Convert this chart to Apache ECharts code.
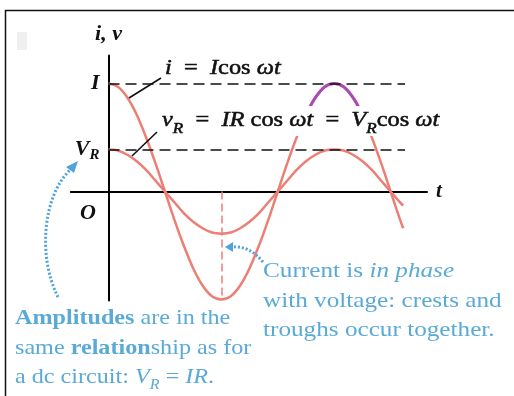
<!DOCTYPE html>
<html>
<head>
<meta charset="utf-8">
<script src="https://cdn.jsdelivr.net/npm/echarts@6/dist/echarts.min.js"></script>
<style>
  html, body { margin: 0; padding: 0; background: #fff; }
  #chart { width: 514px; height: 396px; }
</style>
</head>
<body>
<div id="chart"></div>
<script>
// Phase angle ωt in degrees and the sampled waveforms (current in units of I)
const phaseDeg = [0, 15, 30, 45, 60, 75, 90, 105, 120, 135, 150, 165, 180, 195, 210, 225,
  240, 255, 270, 285, 300, 315, 330, 345, 360, 375, 390, 405, 420, 435, 450, 465, 470];
const currentI = [1, 0.97, 0.87, 0.71, 0.5, 0.26, 0, -0.26, -0.5, -0.71, -0.87, -0.97, -1,
  -0.97, -0.87, -0.71, -0.5, -0.26, 0, 0.26, 0.5, 0.71, 0.87, 0.97, 1, 0.97, 0.87, 0.71,
  0.5, 0.26, 0, -0.26, -0.34];
const voltageV = [0.39, 0.38, 0.34, 0.28, 0.2, 0.1, 0, -0.1, -0.2, -0.28, -0.34, -0.38, -0.39,
  -0.38, -0.34, -0.28, -0.2, -0.1, 0, 0.1, 0.2, 0.28, 0.34, 0.38, 0.39, 0.38, 0.34, 0.28,
  0.2, 0.1, 0, -0.1, -0.13];

// Highlighted crest of the current
const crestDeg = [320, 330, 345, 360, 375, 390, 400];
const crestI = [0.77, 0.87, 0.97, 1, 0.97, 0.87, 0.77];

// Amplitude levels I and V_R, and where the dashed guides end
const levelValues = [1, 0.39];
const levelNames = ['I', 'V_R'];
const guideEndDeg = 473;
const troughDeg = 180;

const RED = '#ec7f74';
const PURPLE = '#a94bb5';
const BLUE = '#5aaad6';
const SERIF = '"Liberation Serif", "Times New Roman", serif';

const zip = (xs, ys) => xs.map((x, k) => [x, ys[k]]);

const mathRich = (size) => ({
  it: { fontFamily: SERIF, fontStyle: 'italic', fontSize: size, lineHeight: 30, verticalAlign: 'middle' },
  rm: { fontFamily: SERIF, fontSize: size, lineHeight: 30, verticalAlign: 'middle' },
  sub: { fontFamily: SERIF, fontStyle: 'italic', fontSize: Math.round(size * 0.7), lineHeight: 14, verticalAlign: 'bottom' }
});

const chart = echarts.init(document.getElementById('chart'), null, { renderer: 'canvas' });

// The y-axis line sits on x = 0, which lies 37.6 px right of the grid edge;
// the level labels are pulled over to it with a negative margin.
const yLabelMargin = 9 - 37.6;

chart.setOption({
  animation: false,
  backgroundColor: '#fff',
  grid: { left: 70.9, top: 55.4, width: 356.1, height: 245.2, containLabel: false },
  xAxis: {
    type: 'value', min: -60, max: 508,
    axisLine: { onZero: true, lineStyle: { color: '#000', width: 2 } },
    axisTick: { show: false }, axisLabel: { show: false }, splitLine: { show: false },
    name: 't', nameLocation: 'end', nameGap: 9,
    nameTextStyle: { fontFamily: SERIF, fontStyle: 'italic', fontWeight: 'bold', fontSize: 21, color: '#111', verticalAlign: 'middle' }
  },
  yAxis: {
    type: 'value', min: -1.01, max: 1.26,
    axisLine: { onZero: true, lineStyle: { color: '#000', width: 2 } },
    axisTick: { show: false }, splitLine: { show: false },
    name: 'i, v', nameLocation: 'end', nameGap: 10,
    nameTextStyle: { fontFamily: SERIF, fontStyle: 'italic', fontWeight: 'bold', fontSize: 22, color: '#111', align: 'center' },
    axisLabel: {
      customValues: levelValues,
      margin: yLabelMargin,
      formatter: (v) => {
        const name = levelNames[levelValues.indexOf(v)] || '';
        return name === 'V_R' ? '{it|V}{sub|R}' : '{it|' + name + '}';
      },
      rich: {
        it: { fontFamily: SERIF, fontStyle: 'italic', fontWeight: 'bold', fontSize: 22, color: '#111', lineHeight: 26, verticalAlign: 'middle' },
        sub: { fontFamily: SERIF, fontStyle: 'italic', fontWeight: 'bold', fontSize: 15, color: '#111', lineHeight: 12, verticalAlign: 'bottom' }
      }
    }
  },
  series: [
    {
      name: 'v', type: 'line', smooth: 0.35, symbol: 'none', z: 3,
      data: zip(phaseDeg, voltageV),
      lineStyle: { color: RED, width: 2.5 },
      markLine: {
        silent: true, symbol: 'none', label: { show: false },
        lineStyle: { color: '#111', width: 1.6, type: [11, 6] },
        data: levelValues.map((lv) => [{ coord: [0, lv] }, { coord: [guideEndDeg, lv] }])
      }
    },
    {
      name: 'i', type: 'line', smooth: 0.35, symbol: 'none', z: 3,
      data: zip(phaseDeg, currentI),
      lineStyle: { color: RED, width: 2.5 },
      markLine: {
        silent: true, symbol: 'none', label: { show: false },
        lineStyle: { color: RED, width: 1.5, type: [8, 4] },
        data: [[{ coord: [troughDeg, 0] }, { coord: [troughDeg, -1] }]]
      }
    },
    {
      name: 'crest', type: 'line', smooth: 0.35, symbol: 'none', z: 4,
      data: zip(crestDeg, crestI),
      lineStyle: { color: PURPLE, width: 3 }
    }
  ],
  graphic: {
    elements: [
      // page frame
      { type: 'polyline', z: 50, shape: { points: [[5.5, 396], [5.5, 10.5], [514, 10.5]] },
        style: { stroke: '#111', lineWidth: 1.5, fill: null } },
      { type: 'rect', z: 50, shape: { x: 17, y: 32, width: 10, height: 18 }, style: { fill: '#efefef' } },
      // leader lines
      { type: 'line', z: 60, shape: { x1: 161, y1: 78, x2: 129, y2: 98 }, style: { stroke: '#111', lineWidth: 1.6 } },
      { type: 'line', z: 60, shape: { x1: 157, y1: 132, x2: 132, y2: 156 }, style: { stroke: '#111', lineWidth: 1.6 } },
      // formulas
      { type: 'text', z: 60, x: 165, y: 69, scaleX: 1.22,
        style: { text: '{it|i}  {rm|=}  {it|I}{rm|cos} {it|ωt}', fill: '#111', fontSize: 20, fontFamily: SERIF,
          stroke: '#111', lineWidth: 0.5,
          verticalAlign: 'middle', align: 'left', rich: mathRich(20) } },
      { type: 'text', z: 60, x: 162, y: 121, scaleX: 1.22,
        style: { text: '{it|v}{sub|R}  {rm|=}  {it|IR} {rm|cos} {it|ωt}  {rm|=}  {it|V}{sub|R}{rm|cos} {it|ωt}', fill: '#111',
          stroke: '#111', lineWidth: 0.5,
          fontSize: 20, fontFamily: SERIF, verticalAlign: 'middle', align: 'left', backgroundColor: '#fff',
          rich: mathRich(20) } },
      // origin label
      { type: 'text', z: 60, x: 88, y: 213,
        style: { text: 'O', fill: '#111', fontSize: 22, fontFamily: SERIF, fontStyle: 'italic', fontWeight: 'bold',
          align: 'center', verticalAlign: 'middle' } },
      // blue notes
      { type: 'text', z: 60, x: 263, y: 257, scaleX: 1.2,
        style: { text: 'Current is {i|in phase}\nwith voltage: crests and\ntroughs occur together.', fill: BLUE,
          fontSize: 21, fontFamily: SERIF, lineHeight: 29.5, align: 'left', verticalAlign: 'top',
          rich: { i: { fontStyle: 'italic', fontSize: 21, fontFamily: SERIF, fill: BLUE, lineHeight: 29.5 } } } },
      { type: 'text', z: 60, x: 15, y: 304, scaleX: 1.15,
        style: { text: '{b|Amplitudes} are in the\nsame {b|relation}ship as for\na dc circuit: {i|V}{s|R} = {i|IR}.', fill: BLUE,
          fontSize: 21, fontFamily: SERIF, lineHeight: 29.5, align: 'left', verticalAlign: 'top',
          rich: {
            b: { fontWeight: 'bold', fontSize: 21, fontFamily: SERIF, fill: BLUE, lineHeight: 29.5 },
            i: { fontStyle: 'italic', fontSize: 21, fontFamily: SERIF, fill: BLUE, lineHeight: 29.5 },
            s: { fontStyle: 'italic', fontSize: 14, fontFamily: SERIF, fill: BLUE, lineHeight: 14, verticalAlign: 'bottom' }
          } } },
      // dotted pointers
      { type: 'bezierCurve', z: 60, shape: { x1: 58, y1: 297, cpx1: 38, cpy1: 258, cpx2: 42, cpy2: 196, x2: 71, y2: 169 },
        style: { stroke: '#4ea3da', lineWidth: 3, lineDash: [2, 2], fill: null } },
      { type: 'polygon', z: 60, shape: { points: [[78, 161], [66, 167], [74, 173]] }, style: { fill: '#4ea3da' } },
      { type: 'bezierCurve', z: 60, shape: { x1: 263, y1: 262, cpx1: 254, cpy1: 251, cpx2: 244, cpy2: 246, x2: 232, y2: 247 },
        style: { stroke: '#4ea3da', lineWidth: 3, lineDash: [2, 2], fill: null } },
      { type: 'polygon', z: 60, shape: { points: [[225, 247], [233, 242], [233, 252]] }, style: { fill: '#4ea3da' } }
    ]
  }
});
</script>
</body>
</html>
